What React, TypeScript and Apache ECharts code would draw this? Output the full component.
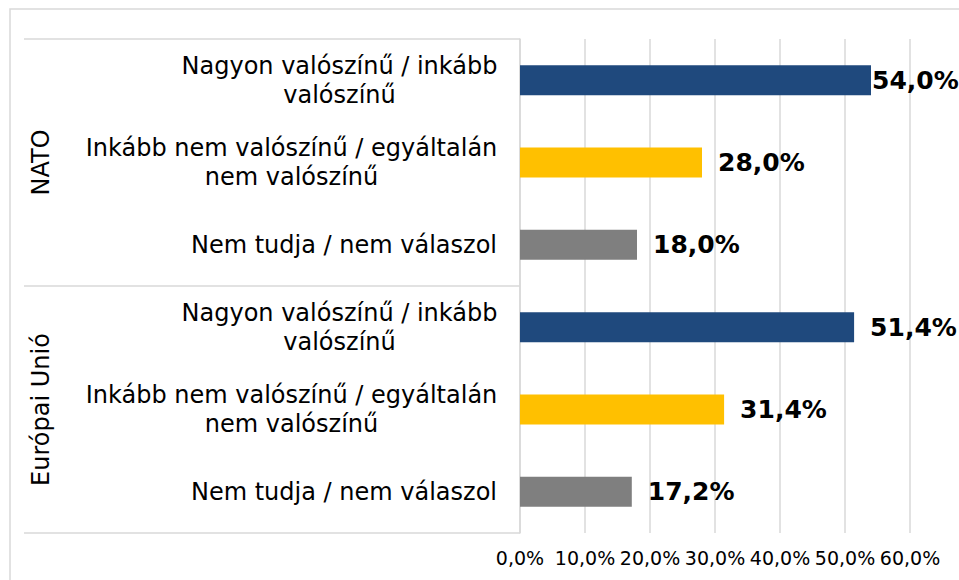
import React, { useEffect, useRef } from "react";
import * as echarts from "echarts";

const groups = ["NATO", "Európai Unió"];
const categories = [
  "Nagyon valószínű / inkább\nvalószínű",
  "Inkább nem valószínű / egyáltalán\nnem valószínű",
  "Nem tudja / nem válaszol",
  "Nagyon valószínű / inkább\nvalószínű",
  "Inkább nem valószínű / egyáltalán\nnem valószínű",
  "Nem tudja / nem válaszol",
];
const values = [54.0, 28.0, 18.0, 51.4, 31.4, 17.2];
const colors = ["#1F497D", "#FFC000", "#7F7F7F"];
const xTicks = [0, 10, 20, 30, 40, 50, 60];

const fmt = (v: number) => v.toFixed(1).replace(".", ",") + "%";

export default function App() {
  const ref = useRef<HTMLDivElement>(null);
  useEffect(() => {
    if (!ref.current) return;
    const chart = echarts.init(ref.current, undefined, { renderer: "svg" });
    const font = "Verdana, 'DejaVu Sans', sans-serif";
    const catSize = 24;
    const canvas = document.createElement("canvas");
    const ctx = canvas.getContext("2d")!;
    ctx.font = `${catSize}px ${font}`;
    const rich: Record<string, any> = {};
    categories.forEach((c, i) => {
      const w = Math.max(...c.split("\n").map((l) => ctx.measureText(l).width));
      rich["r" + i] = {
        width: Math.ceil(w) + 1,
        align: "center",
        fontFamily: font,
        fontSize: catSize,
        color: "#000000",
        lineHeight: 29,
      };
    });
    chart.setOption({
      animation: false,
      backgroundColor: "#ffffff",
      graphic: [
        {
          type: "rect",
          shape: { x: 10, y: 9, width: 960, height: 600 },
          style: { fill: "none", stroke: "#d9d9d9", lineWidth: 1.5 },
          silent: true,
        },
      ],
      grid: { left: 520, right: 49, top: 39, bottom: 47, containLabel: false },
      xAxis: {
        type: "value",
        min: xTicks[0],
        max: xTicks[xTicks.length - 1],
        interval: 10,
        axisLine: { show: false },
        axisTick: { show: false },
        splitLine: { show: true, lineStyle: { color: "#d9d9d9", width: 1.5 } },
        axisLabel: {
          formatter: (v: number) => fmt(v),
          fontFamily: font,
          fontSize: 19,
          color: "#000000",
          margin: 15,
        },
      },
      yAxis: [
        {
          type: "category",
          inverse: true,
          data: categories,
          axisLine: { show: true, lineStyle: { color: "#d9d9d9", width: 1.5 } },
          axisTick: { show: false },
          axisLabel: {
            formatter: (v: string, idx: number) =>
              v
                .split("\n")
                .map((l) => `{r${idx}|${l}}`)
                .join("\n"),
            rich,
            fontFamily: font,
            fontSize: catSize,
            color: "#000000",
            lineHeight: 29,
            align: "right",
            margin: 22,
          },
        },
        {
          type: "category",
          inverse: true,
          data: groups,
          position: "left",
          offset: 496,
          axisLine: { show: false },
          axisTick: {
            show: true,
            inside: true,
            length: 496,
            lineStyle: { color: "#d9d9d9", width: 1.5 },
          },
          axisLabel: {
            inside: true,
            rotate: 90,
            fontFamily: font,
            fontSize: 24,
            color: "#000000",
            margin: 17,
            verticalAlign: "middle",
            align: "center",
          },
        },
      ],
      series: [
        {
          type: "bar",
          yAxisIndex: 0,
          barWidth: 30,
          data: values.map((v, i) => ({
            value: v,
            itemStyle: { color: colors[i % 3] },
            label: i === 0 ? { distance: 1 } : undefined,
          })),
          label: {
            show: true,
            position: "right",
            distance: 16,
            formatter: (p: any) => fmt(p.value),
            fontFamily: font,
            fontSize: 25,
            fontWeight: "bold",
            color: "#000000",
          },
        },
      ],
    });
    return () => chart.dispose();
  }, []);
  return <div ref={ref} style={{ width: 959, height: 580, position: "absolute", left: 0, top: 0 }} />;
}
